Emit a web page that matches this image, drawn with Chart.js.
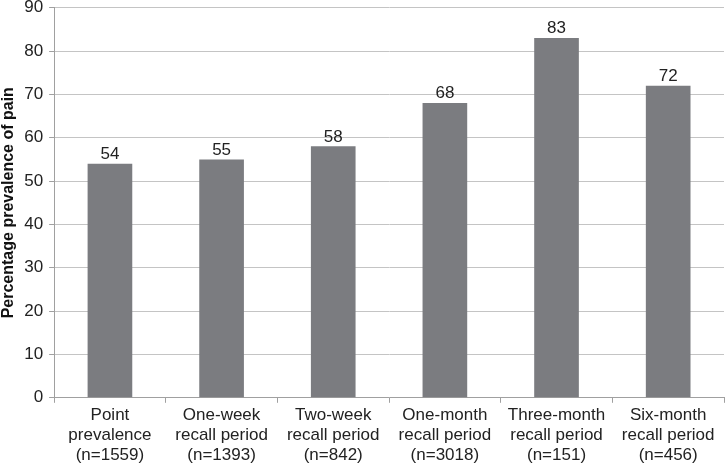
<!DOCTYPE html>
<html>
<head>
<meta charset="utf-8">
<script src="https://cdn.jsdelivr.net/npm/chart.js@4"></script>
<style>
  body { margin: 0; background: #fff; overflow: hidden; }
  #wrap { width: 727px; height: 474px; margin-top: -6px; }
</style>
</head>
<body>
<div id="wrap"><canvas id="chart"></canvas></div>
<script>
const categories = [
    ['Point', 'prevalence', '(n=1559)'],
    ['One-week', 'recall period', '(n=1393)'],
    ['Two-week', 'recall period', '(n=842)'],
    ['One-month', 'recall period', '(n=3018)'],
    ['Three-month', 'recall period', '(n=151)'],
    ['Six-month', 'recall period', '(n=456)']
]
const prevalence = [54, 55, 58, 68, 83, 72]
const yTicks = [0, 10, 20, 30, 40, 50, 60, 70, 80, 90]

// numbers above each bar
const barLabels = {
    id: 'barLabels',
    afterDatasetsDraw(chart) {
        const ctx = chart.ctx
        const meta = chart.getDatasetMeta(0)
        ctx.save()
        ctx.font = '17px "Liberation Sans", Arial, sans-serif'
        ctx.fillStyle = '#222'
        ctx.textAlign = 'center'
        ctx.textBaseline = 'bottom'
        meta.data.forEach((bar, i) => {
            ctx.fillText(prevalence[i], bar.x, bar.y - 1)
        })
        ctx.restore()
    }
}

Chart.defaults.font.family = '"Liberation Sans", Arial, sans-serif'
Chart.defaults.color = '#222'

new Chart(document.getElementById('chart'), {
    type: 'bar',
    data: {
        labels: categories,
        datasets: [{
            data: prevalence,
            backgroundColor: '#7b7c80',
            categoryPercentage: 1,
            barPercentage: 0.4
        }]
    },
    options: {
        responsive: true,
        maintainAspectRatio: false,
        animation: false,
        layout: { padding: { top: 0, right: 3, left: -1, bottom: 0 } },
        plugins: {
            legend: { display: false },
            tooltip: { enabled: false }
        },
        scales: {
            x: {
                grid: {
                    offset: true,
                    drawOnChartArea: false,
                    drawTicks: true,
                    tickLength: 5,
                    color: '#a0a0a0'
                },
                border: { color: '#a0a0a0' },
                ticks: {
                    font: { size: 17, lineHeight: 1.2 },
                    padding: 2,
                    maxRotation: 0,
                    autoSkip: false
                }
            },
            y: {
                min: 0,
                max: 90,
                afterBuildTicks(axis) {
                    axis.ticks = yTicks.map(v => ({ value: v }))
                },
                grid: {
                    color: '#c4c4c4',
                    tickLength: 5,
                    tickColor: '#a0a0a0'
                },
                border: { color: '#a0a0a0' },
                ticks: {
                    font: { size: 17, lineHeight: 0.9 },
                    padding: 6
                },
                title: {
                    display: true,
                    text: 'Percentage prevalence of pain',
                    font: { size: 16, weight: 'bold' },
                    color: '#111',
                    padding: { top: 0, bottom: 0 }
                }
            }
        }
    },
    plugins: [barLabels]
})
</script>
</body>
</html>
